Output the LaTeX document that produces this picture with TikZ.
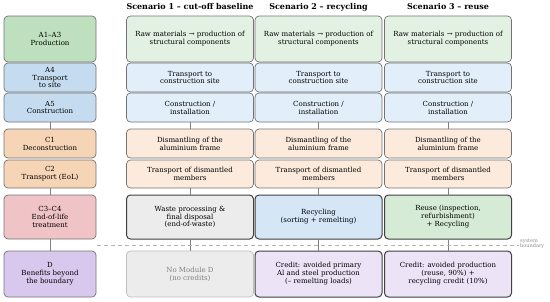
\documentclass[tikz,border=0pt]{standalone}
\usepackage{fontspec}
\setmainfont{DejaVu Serif}
\usepackage{tikz}
\usetikzlibrary{positioning}

\begin{document}
\begin{tikzpicture}[
  x=1pt, y=-1pt,
  execute at begin picture={
    \definecolor{prodgreen}{RGB}{190,224,190}
    \definecolor{prodgreenlt}{RGB}{227,241,227}
    \definecolor{transblue}{RGB}{197,220,240}
    \definecolor{transbluelt}{RGB}{226,238,249}
    \definecolor{eolorange}{RGB}{246,212,182}
    \definecolor{eolorangelt}{RGB}{252,235,220}
    \definecolor{treatpink}{RGB}{240,196,198}
    \definecolor{benpurple}{RGB}{216,200,238}
    \definecolor{benpurplelt}{RGB}{237,227,246}
    \definecolor{wastegray}{RGB}{236,236,236}
    \definecolor{recblue}{RGB}{213,230,247}
    \definecolor{reusegreen}{RGB}{213,235,213}
  },
  font=\fontsize{7}{7.9}\selectfont,
  stage/.style={
    rounded corners=4pt,
    draw=black!55,
    line width=0.7pt,
    align=center,
    inner sep=2pt,
    minimum width=92pt
  },
  cell/.style={
    rounded corners=4pt,
    draw=black!55,
    line width=0.7pt,
    align=center,
    inner sep=2pt,
    minimum width=127pt
  },
  strong/.style={draw=black!75, line width=1pt},
  link/.style={draw=black!50, line width=0.6pt},
  head/.style={font=\fontsize{8}{9}\selectfont\bfseries}
]
\useasboundingbox (0,0) rectangle (550,301);

% headers
\node[head] (h1) at (190,7) {Scenario 1 – cut-off baseline};
\node[head] (h2) at (318.5,7) {Scenario 2 – recycling};
\node[head] (h3) at (448,7) {Scenario 3 – reuse};

% life cycle modules
\node[stage, fill=prodgreen, minimum height=46pt] (sA) at (50,39) {A1–A3\\Production};
\node[stage, fill=transblue, minimum height=29pt] (sA4) at (50,77.5) {A4\\Transport\\to site};
\node[stage, fill=transblue, minimum height=29pt] (sA5) at (50,107.5) {A5\\Construction};
\node[stage, fill=eolorange, minimum height=29pt] (sC1) at (50,143.5) {C1\\Deconstruction};
\node[stage, fill=eolorange, minimum height=28pt] (sC2) at (50,174) {C2\\Transport (EoL)};
\node[stage, fill=treatpink, minimum height=44pt] (sC3) at (50,217) {C3–C4\\End-of-life\\treatment};
\node[stage, fill=benpurple, minimum height=46pt] (sD) at (50,274) {D\\Benefits beyond\\the boundary};

% scenario 1
\node[cell, fill=prodgreenlt, minimum height=46pt] (aA) at (190,39) {Raw materials → production of\\structural components};
\node[cell, fill=transbluelt, minimum height=29pt] (aA4) at (190,77.5) {Transport to\\construction site};
\node[cell, fill=transbluelt, minimum height=29pt] (aA5) at (190,107.5) {Construction /\\installation};
\node[cell, fill=eolorangelt, minimum height=29pt] (aC1) at (190,143.5) {Dismantling of the\\aluminium frame};
\node[cell, fill=eolorangelt, minimum height=28pt] (aC2) at (190,174) {Transport of dismantled\\members};
\node[cell, strong, fill=wastegray, minimum height=44pt] (aC3) at (190,217) {Waste processing \&\\final disposal\\(end-of-waste)};
\node[cell, draw=black!25, fill=wastegray, text=black!50, minimum height=46pt] (aD) at (190,274) {No Module D\\(no credits)};

% scenario 2
\node[cell, fill=prodgreenlt, minimum height=46pt] (bA) at (318.5,39) {Raw materials → production of\\structural components};
\node[cell, fill=transbluelt, minimum height=29pt] (bA4) at (318.5,77.5) {Transport to\\construction site};
\node[cell, fill=transbluelt, minimum height=29pt] (bA5) at (318.5,107.5) {Construction /\\installation};
\node[cell, fill=eolorangelt, minimum height=29pt] (bC1) at (318.5,143.5) {Dismantling of the\\aluminium frame};
\node[cell, fill=eolorangelt, minimum height=28pt] (bC2) at (318.5,174) {Transport of dismantled\\members};
\node[cell, strong, fill=recblue, minimum height=44pt] (bC3) at (318.5,217) {Recycling\\(sorting + remelting)};
\node[cell, strong, fill=benpurplelt, minimum height=46pt] (bD) at (318.5,274) {Credit: avoided primary\\Al and steel production\\(– remelting loads)};

% scenario 3
\node[cell, fill=prodgreenlt, minimum height=46pt] (cA) at (448,39) {Raw materials → production of\\structural components};
\node[cell, fill=transbluelt, minimum height=29pt] (cA4) at (448,77.5) {Transport to\\construction site};
\node[cell, fill=transbluelt, minimum height=29pt] (cA5) at (448,107.5) {Construction /\\installation};
\node[cell, fill=eolorangelt, minimum height=29pt] (cC1) at (448,143.5) {Dismantling of the\\aluminium frame};
\node[cell, fill=eolorangelt, minimum height=28pt] (cC2) at (448,174) {Transport of dismantled\\members};
\node[cell, strong, fill=reusegreen, minimum height=44pt] (cC3) at (448,217) {Reuse (inspection,\\refurbishment)\\+ Recycling};
\node[cell, strong, fill=benpurplelt, minimum height=46pt] (cD) at (448,274) {Credit: avoided production\\(reuse, 90\%) +\\recycling credit (10\%)};

% connectors
\foreach \col in {s,a,b,c} {
  \draw[link] (\col A5) -- (\col C1);
  \draw[link] (\col C2) -- (\col C3);
  \draw[link] (\col C3) -- (\col D);
}

% system boundary
\coordinate (bndL) at (97,245);
\node[anchor=west, align=left, text=black!45, font=\fontsize{5}{5.6}\selectfont, inner sep=1pt] (bnd) at (519,244) {system\\boundary};
\draw[black!30, dashed, line width=0.7pt, dash pattern=on 4pt off 3pt] (bndL) -- (bnd.west |- bndL);

\end{tikzpicture}
\end{document}
